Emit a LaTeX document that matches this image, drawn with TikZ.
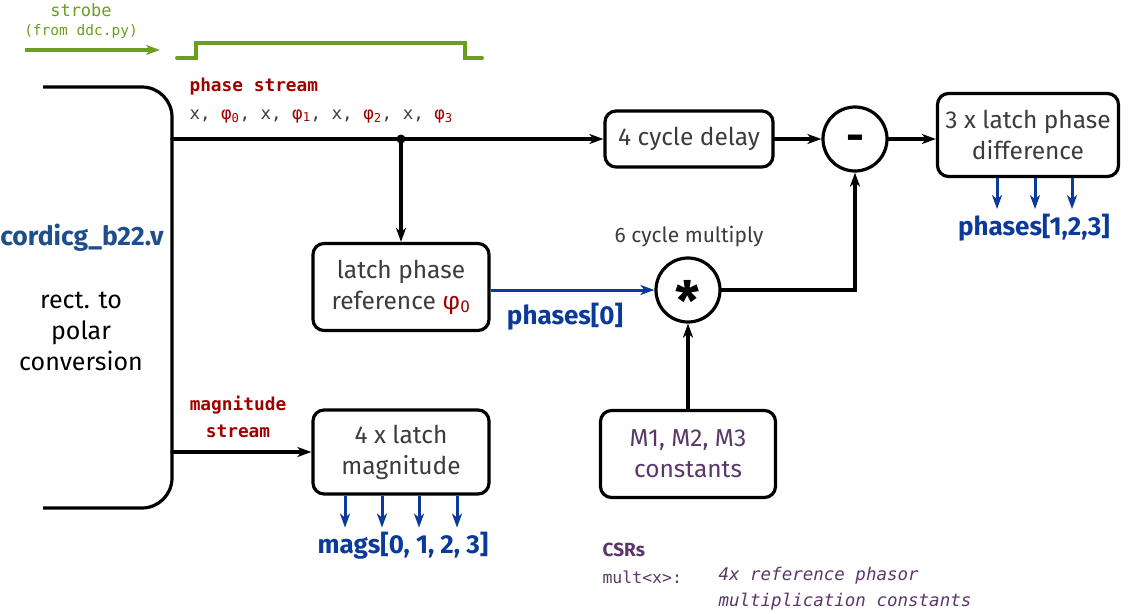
\documentclass[tikz,border=0pt]{standalone}
\usepackage{fontspec}
\setmainfont{Fira Sans}
\setsansfont{Fira Sans}
\setmonofont{DejaVu Sans Mono}
\usetikzlibrary{arrows.meta}
\definecolor{streamred}{HTML}{A00000}
\definecolor{busblue}{HTML}{0B3A9A}
\definecolor{fileblue}{HTML}{1F4E8C}
\definecolor{strobegreen}{HTML}{6A9E1F}
\definecolor{csrpurple}{HTML}{5A3768}
\definecolor{boxgray}{HTML}{3C3C3C}

\begin{document}
\begin{tikzpicture}[x=1pt,y=-1pt,
  wire/.style={line width=3.2pt,line cap=round},
  wirearrow/.style={wire,-{Stealth[length=14pt,width=10pt,inset=4pt]}},
  busarrow/.style={line width=3pt,busblue,-{Stealth[length=14pt,width=10pt,inset=4pt]}},
  blockbox/.style={draw,line width=3.2pt,rounded corners=11pt,align=center,
    text=boxgray,font=\fontsize{24.5}{31}\selectfont,inner sep=0pt},
  opcircle/.style={draw,circle,line width=3.2pt,minimum size=64pt,inner sep=0pt,
    text height=0pt,text depth=0pt},
  buslabel/.style={text=busblue,font=\fontsize{26}{30}\selectfont\bfseries},
  streamlabel/.style={text=streamred,font=\fontsize{17.8}{27}\ttfamily\bfseries,align=center}]
\useasboundingbox (0,0) rectangle (1132,613);

% strobe
\node[text=strobegreen,font=\fontsize{17}{20}\ttfamily] (strobe) at (81,10) {strobe};
\node[text=strobegreen,font=\fontsize{14.5}{17}\ttfamily] (strobesrc) at (81,31) {(from ddc.py)};
\coordinate (strobein) at (25,50);
\coordinate (strobeout) at (160,50);
\draw[line width=3.5pt,strobegreen,-{Stealth[length=14pt,width=10pt,inset=4pt]}] (strobein) -- (strobeout);
\draw[line width=3.8pt,strobegreen,line cap=round] (177,58) -- (196,58) -- (196,43) -- (465,43) -- (465,58) -- (482,58);

% cordic block
\draw[wire,line cap=butt,rounded corners=30pt] (43,87) -- (172,87) -- (172,508) -- (43,508);
\node[text=fileblue,font=\fontsize{26.5}{30}\selectfont\bfseries] (cordic) at (82,238) {cordicg\_b22.v};
\node[font=\fontsize{25}{31}\selectfont,align=center] (cordicdesc) at (81,331) {rect. to\\polar\\conversion};
\coordinate (phout) at (172,139);
\coordinate (magout) at (172,452);

% phase path
\node[streamlabel,anchor=west] (phlabel) at (186,87) {phase stream};
\node[anchor=west,text=boxgray,font=\fontsize{17.5}{20}\ttfamily] (phseq) at (186,116)
  {x, \textcolor{streamred}{φ\textsubscript{0}}, x, \textcolor{streamred}{φ\textsubscript{1}}, x, \textcolor{streamred}{φ\textsubscript{2}}, x, \textcolor{streamred}{φ\textsubscript{3}}};
\node[blockbox,minimum width=168pt,minimum height=56pt] (delay) at (689,139) {4 cycle delay};
\node[opcircle,font=\fontsize{44}{44}\selectfont\bfseries] (minus) at (855,139) {\raisebox{-12pt}{-}};
\node[blockbox,minimum width=181pt,minimum height=83pt] (diffbox) at (1028,135) {3 x latch phase\\difference};
\node[blockbox,minimum width=176pt,minimum height=87pt] (refbox) at (401,287) {latch phase\\reference \textcolor{streamred}{φ\textsubscript{0}}};
\node[opcircle,font=\fontsize{54}{54}\selectfont\bfseries] (star) at (688,290) {\raisebox{-30pt}{*}};
\node[text=boxgray,font=\fontsize{21}{24}\selectfont] (multlabel) at (689,237) {6 cycle multiply};
\node[blockbox,text=csrpurple,minimum width=175pt,minimum height=87pt] (constbox) at (688,454) {M1, M2, M3\\constants};
\coordinate (tap) at (401,139);

\draw[wirearrow] (phout) -- (delay.west);
\fill (tap) circle (4.5pt);
\draw[wirearrow] (tap) -- (refbox.north);
\draw[wirearrow] (delay.east) -- (minus.west);
\draw[wirearrow] (minus.east) -- (minus.east -| diffbox.west);
\draw[busarrow] (refbox.east |- star.west) -- (star.west);
\node[buslabel] (ph0label) at (565,317) {phases[0]};
\draw[wirearrow] (star.east) -| (minus.south);
\draw[wirearrow] (constbox.north) -- (star.south);
\foreach \dx in {-31,7,44}
  \draw[busarrow] ([xshift=\dx pt]diffbox.south) -- ++(0,31);
\node[buslabel] (phlist) at (1034,228) {phases[1,2,3]};

% magnitude path
\node[streamlabel] (maglabel) at (238,417) {magnitude\\stream};
\node[blockbox,minimum width=176pt,minimum height=84pt] (magbox) at (401,452) {4 x latch\\magnitude};
\draw[wirearrow] (magout) -- (magbox.west);
\foreach \dx in {-56,-19,18,56}
  \draw[busarrow] ([xshift=\dx pt]magbox.south) -- ++(0,32);
\node[buslabel] (maglist) at (403,546) {mags[0, 1, 2, 3]};

% CSRs
\node[anchor=west,text=csrpurple,font=\fontsize{19}{22}\selectfont\bfseries] (csrhead) at (599,550) {CSRs};
\node[anchor=west,text=csrpurple,font=\fontsize{16.5}{19}\ttfamily] (csrname) at (599,577) {mult<x>:};
\node[anchor=north west,text=csrpurple,font=\fontsize{17.5}{26}\ttfamily\itshape,align=left] (csrdesc) at (715,564) {4x reference phasor\\multiplication constants};
\end{tikzpicture}
\end{document}
